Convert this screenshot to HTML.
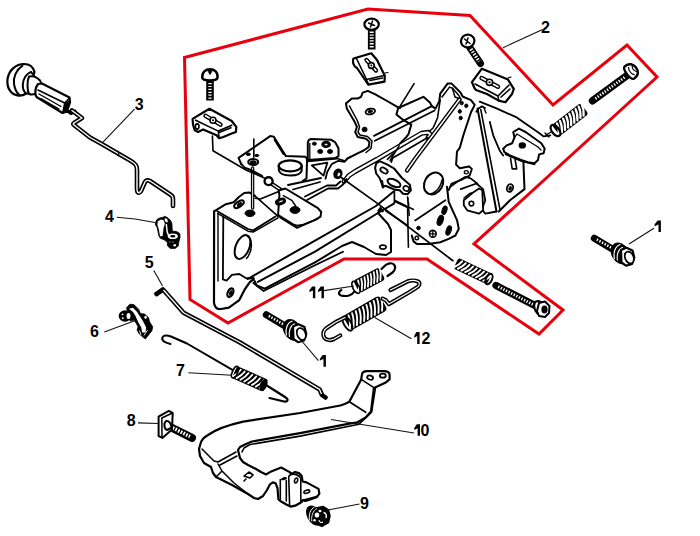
<!DOCTYPE html>
<html><head><meta charset="utf-8"><style>
html,body{margin:0;padding:0;background:#fff;width:700px;height:536px;overflow:hidden}
svg{display:block}
.k{fill:none;stroke:#000;stroke-width:1.8;stroke-linejoin:round;stroke-linecap:round}
.kw{fill:#fff;stroke:#000;stroke-width:1.8;stroke-linejoin:round;stroke-linecap:round}
.t{fill:none;stroke:#000;stroke-width:1.2;stroke-linecap:round}
.ld{fill:none;stroke:#111;stroke-width:1.1}
.lb{font-family:"Liberation Sans",sans-serif;font-weight:bold;font-size:16px;fill:#000}
.red{fill:none;stroke:#e8000c;stroke-width:3;stroke-linejoin:miter}
</style></head><body>
<svg width="700" height="536" viewBox="0 0 700 536">
<!-- red outline -->
<path class="red" d="M184.5,57.5 L368,9 L470,15.5 L553,105 L627,45 L657,77 L474,244 L563,310 L539,334 L427,259 L344,259 L228,323 L190,299.5 Z"/>


<!-- part 3 knob + rod -->
<g id="p3">
<path class="kw" d="M34.5,72 C33,66 29,64 24,64 C16,64 9,70 7.5,79 C6.5,88 11,95 18.5,95.6 C21,95.8 24,95 26.5,93.5 Z" style="stroke-width:2.2px"/>
<path class="k" d="M22.5,65.7 C16,70 13,78 14,84 C15,90 17,93 19,94.5" style="stroke-width:2px"/>
<path class="kw" d="M31,71.8 C26,74 23,79 22.8,85 C22.7,89 24,92 26.5,93.5 C30,93.5 33,92.5 35,91 L36,80 C34.5,76 33,74 31,71.8 Z" style="stroke-width:2px"/>
<path class="kw" d="M29,76.5 C33,75.5 37,77 40,80.5 C42,83 41.5,88 38.5,91.5 C36,94 32,95 29,94 C27,90 27,81 29,76.5 Z" style="stroke-width:2px"/>
<path class="kw" d="M38,84 L42,83.5 L69.5,97.5 L70,102.5 L67,111.5 L62.5,113 L36.5,97 C34.5,94 35,88 38,84 Z" style="stroke-width:2.2px"/>
<path class="k" d="M38,90 L64.7,103 L69.5,98" style="stroke-width:1.6px"/>
<path class="k" d="M64.7,103 L62.8,112.5" style="stroke-width:1.4px"/>
<path class="k" d="M39,94 L61,106.5 M41,98.5 L59,109" style="stroke-width:1.4px"/>
<path d="M64.7,103 L69.6,100 L69.8,102.5 L67,111.4 L62.5,113.1 Z" fill="#000"/>
<path d="M66,110 L71,113.5 L75,111.5 L76.5,114.5" fill="none" stroke="#000" stroke-width="3.2" stroke-linecap="round"/>

<path class="k" d="M66,111 L74.8,112.6" style="stroke-width:3px"/>
<path class="k" d="M72,110.5 L82,118 L74,123 C73,123.5 73,124.2 74,125 L90,137.5 L100,143 L131,161 C136,164 137,166 137,170 L137,189 C137,193 139,194 141,191 L145,182 C146,180 148,180 150,181 L171,195 C172.5,196 173,197 173,199 L173,206" style="stroke-width:4.6px"/>
<path d="M72,110.5 L82,118 L74,123 C73,123.5 73,124.2 74,125 L90,137.5 L100,143 L131,161 C136,164 137,166 137,170 L137,189 C137,193 139,194 141,191 L145,182 C146,180 148,180 150,181 L171,195 C172.5,196 173,197 173,199 L173,206" fill="none" stroke="#fff" stroke-width="1.4" stroke-linejoin="round" stroke-linecap="round"/>
<path class="k" d="M118,151 L119,155" style="stroke-width:1px"/>
</g>


<!-- part 4 clip -->
<g id="p4">
<path d="M155.5,222.5 L157,219.4 L160.2,217.8 L162.9,217.4 L164.5,216.3 L167.2,217.4 L170.4,220.2 L171.9,223.3 L172.3,231.1 L176.6,231.5 L179.8,233.5 L180.1,237.4 L179,241.3 L178.2,246 L175.1,248.4 L170.4,248.4 L167.6,246 L167.2,242.1 L164.1,239.8 L160.2,238.2 L158.6,235.1 L157.8,230.4 L157,227.2 L155.5,224.9 Z" fill="#000" stroke="#000" stroke-width="0.8" stroke-linejoin="round"/>
<path d="M157.8,221.2 L161,219.6 L163.6,220.3 L164.9,223.5 L163.6,228 L162.6,236 L160,236.3 L158.8,229 L157.4,225 Z" fill="#fff"/>
<ellipse cx="166.2" cy="220.4" rx="1.4" ry="2.2" transform="rotate(-30 166.2 220.4)" fill="#fff"/>
<path d="M166.3,224 L167.2,232 L168.6,235.5" fill="none" stroke="#fff" stroke-width="1.5"/>
<ellipse cx="172.8" cy="236.3" rx="5" ry="2.8" fill="#fff"/>
<ellipse cx="172.8" cy="236.3" rx="2.6" ry="1.3" fill="#000"/>
<ellipse cx="174.7" cy="245.3" rx="1.3" ry="1.3" fill="#fff"/>
<path d="M169.5,242 L170.5,242 M172.5,242 L173.5,242" stroke="#fff" stroke-width="0.8"/>
</g>
<!-- part 6 clip -->
<g id="p6">
<path d="M126.5,307.8 L129.8,304.2 L133.9,304.6 L138.8,309.5 L140.4,313.6 L144.5,314 L148.6,317.7 L149.5,321.8 L152.7,326.7 L151.9,330.8 L148.6,334.9 L145.4,339 L142.1,336.6 L138.8,333.3 L137.1,330 L138,326.7 L136.3,323.4 L133.9,320.1 L130,321 Z" fill="#000" stroke="#000" stroke-width="0.8" stroke-linejoin="round"/>
<ellipse cx="125" cy="316" rx="6.3" ry="5.8" fill="#000"/>
<ellipse cx="128.5" cy="316" rx="2" ry="3" fill="#fff"/>
<circle cx="122.5" cy="314.3" r="0.9" fill="#fff"/>
<circle cx="122.8" cy="318.2" r="0.9" fill="#fff"/>
<path d="M128.9,308.7 L133,307.8 L137.1,312 L142.9,321 L146.2,327.5 L145.4,332.5 L142.1,332.5 L141.3,327.5 L138,321.8 L135.5,316 L133,312 Z" fill="#fff"/>
<path d="M139.5,330.5 L141,335 M147.5,330 L144,335.5" stroke="#fff" stroke-width="0.9" fill="none"/>
<ellipse cx="145.6" cy="317.2" rx="1.2" ry="1.5" fill="#fff"/>
</g>
<!-- part 5 rod -->
<g id="p5">
<path class="k" d="M156.5,294 L163,289.5 L183.6,312.7 L240,342.5 L319.6,389.4 L322,395 L325.5,397.5" style="stroke-width:4.6px"/>
<path d="M163.5,290 L183.6,312.7 L240,342.5 L319.6,389.4 L321.5,394" fill="none" stroke="#fff" stroke-width="1.3" stroke-linejoin="round"/>
</g>
<!-- part 7 spring link -->
<g id="p7">
<path class="k" d="M170.5,344 C166,343 161,341 162.5,337.5 C163.5,335 167,335 171,336.5 L187,343.5 L232,369.6" style="stroke-width:2px"/>
<path class="k" d="M266,385 L285,397 C289,399.5 288,402 284,401.5 L269.5,398" style="stroke-width:2.2px"/>
<rect x="233.0" y="372.4" width="34.5" height="13.2" rx="3.0" transform="rotate(24.0 250.2 379.0)" fill="#000"/>
<path d="M232.8,376.4 Q238.1,373.6 240.8,369.7 M236.6,378.1 Q241.9,375.3 244.7,371.4 M240.5,379.8 Q245.8,377.0 248.5,373.1 M244.3,381.5 Q249.6,378.7 252.3,374.8 M248.2,383.2 Q253.4,380.4 256.2,376.5 M252.0,384.9 Q257.3,382.1 260.0,378.2 M255.8,386.6 Q261.1,383.8 263.9,379.9 M259.7,388.3 Q265.0,385.5 267.7,381.6" fill="none" stroke="#fff" stroke-width="1.8" stroke-linecap="round"/>
<ellipse cx="263.5" cy="385" rx="3.5" ry="6.4" transform="rotate(24 263.5 385)" fill="#000"/>
<ellipse cx="235" cy="372.2" rx="2.6" ry="6.2" transform="rotate(24 235 372.2)" fill="none" stroke="#000" stroke-width="1.6"/>
</g>
<!-- part 8 bolt -->
<g id="p8">
<path class="k" d="M166.3,425 L192,437.9" style="stroke-width:8px"/>
<path d="M170,426.5 L190,436.5" fill="none" stroke="#fff" stroke-width="3.6" stroke-dasharray="1.7 1.3"/>
<path class="kw" d="M158.6,416.7 L168.8,410.9 L172.7,412.9 L172,429.6 L162.4,437.9 L158.6,436 Z" style="stroke-width:2px"/>
<path class="k" d="M161.8,418 L171.4,413.5 M161.8,418 L162,437" style="stroke-width:1.5px"/>
<path class="kw" d="M166,421 C169,420.5 172,424 171,428 L167,430 C164,429 163.5,423 166,421 Z" style="stroke-width:2px"/>
</g>
<!-- part 9 nut -->
<g id="p9">
<ellipse cx="314" cy="515.5" rx="7" ry="10.8" transform="rotate(-28 314 515.5)" fill="#000"/>
<path d="M316,508 L323,506.5 L328.5,510 L330,516 L328.5,522.5 L322,526.3 L316,524 Z" fill="#000" stroke="#000" stroke-width="1.5" stroke-linejoin="round"/>
<path d="M309.5,520.5 C308.5,514.5 310.5,509 314.5,507" stroke="#fff" stroke-width="1" fill="none"/>
<path d="M311.8,521.5 C311,516 313,510.5 317,508.5" stroke="#fff" stroke-width="0.9" fill="none"/>
<ellipse cx="317" cy="515" rx="2.3" ry="2.6" fill="#fff"/>
<ellipse cx="320" cy="511" rx="1.5" ry="1.2" fill="#fff"/>
<path d="M323.5,512.5 C326,513 327,515.5 326,518" stroke="#fff" stroke-width="1.4" fill="none"/>
<ellipse cx="314.5" cy="520.3" rx="1.2" ry="1.3" fill="#fff"/>
<path d="M319,520 C319.5,522.5 321,523 323,522" stroke="#fff" stroke-width="1.1" fill="none"/>
</g>
<!-- bolt 1 right -->
<g id="b1r"><g transform="translate(0,0)">
<path d="M594.3,238.3 L613,249.5" stroke="#000" stroke-width="7" stroke-linecap="round" fill="none"/>
<path d="M596.8,239.4 L611,247.6" stroke="#fff" stroke-width="2.4" stroke-dasharray="1.4 1.6" fill="none"/>
<ellipse cx="620" cy="253.3" rx="8.6" ry="11.4" transform="rotate(-28 620 253.3)" fill="#000"/>
<path d="M614.5,259 C613,253 615,246 620.5,244.5" stroke="#fff" stroke-width="1.2" fill="none"/>
<path d="M617.5,260.5 C616.5,255 618,249 623,247.3" stroke="#fff" stroke-width="1.1" fill="none"/>
<path d="M621,250 L626.5,247.8 L632.5,250.5 L634.3,257.5 L632,264 L626,265.7 L621.5,262.5 Z" fill="#fff" stroke="#000" stroke-width="2.2" stroke-linejoin="round"/>
<ellipse cx="629.3" cy="257.5" rx="4.2" ry="6.2" transform="rotate(-22 629.3 257.5)" fill="#fff" stroke="#000" stroke-width="1.7"/>
<path d="M624,254 L626,253" stroke="#000" stroke-width="1.2"/>
</g></g>
<!-- bolt 1 left -->
<g id="b1l"><g transform="translate(-328,76.5)">
<path d="M594.3,238.3 L613,249.5" stroke="#000" stroke-width="7" stroke-linecap="round" fill="none"/>
<path d="M596.8,239.4 L611,247.6" stroke="#fff" stroke-width="2.4" stroke-dasharray="1.4 1.6" fill="none"/>
<ellipse cx="620" cy="253.3" rx="8.6" ry="11.4" transform="rotate(-28 620 253.3)" fill="#000"/>
<path d="M614.5,259 C613,253 615,246 620.5,244.5" stroke="#fff" stroke-width="1.2" fill="none"/>
<path d="M617.5,260.5 C616.5,255 618,249 623,247.3" stroke="#fff" stroke-width="1.1" fill="none"/>
<path d="M621,250 L626.5,247.8 L632.5,250.5 L634.3,257.5 L632,264 L626,265.7 L621.5,262.5 Z" fill="#fff" stroke="#000" stroke-width="2.2" stroke-linejoin="round"/>
<ellipse cx="629.3" cy="257.5" rx="4.2" ry="6.2" transform="rotate(-22 629.3 257.5)" fill="#fff" stroke="#000" stroke-width="1.7"/>
<path d="M624,254 L626,253" stroke="#000" stroke-width="1.2"/>
</g></g>


<!-- part 10 pedal -->
<g id="p10">
<path class="kw" d="M361.9,374.9 C362,372 364,371.2 367.2,371.2 L383.6,371.2 C387,371.2 389.6,372.5 389.6,375 L389.6,379.4 L385.8,382.4 L375,387.6 L373.9,388 L371,411.5 L365.7,417.5 L356.7,422.7 L350.7,423.4 L300,433.1 L252,441.5 L246,444 L240,447 L238,450 L240,458 L243,462 L248,465 L256,469 L261,472 L266,474.5 L270,472.1 L281.2,467.5 L289.6,472.1 L291.5,474 L295.2,472.1 L298.9,473.1 L301.7,475.9 L302.6,481.5 L306.4,482.4 L318.5,488.9 L319.4,493.6 L316.6,497.3 L311,499.2 L305.4,501 L302.6,500.1 L301.7,502 L295.2,505.7 L290.5,506.6 L286.8,504.8 L280.3,501 L278.4,499.2 L277.5,488 L275.6,483.3 L272.8,482.4 L270,484.3 L267,490 L263,496 L258,499 L254,498 L248,494 L232,485 L216,477 L213,473 L211,467 L204,463 L200,456 L199,449 L201,442 C203,438 206,436 208,435 C215,430 228,425 243.2,421.6 L300,413 L340.3,405.5 C343,405 345,404 349.3,401.8 L361.2,379.4 Z" style="stroke-width:2.2px"/>
<ellipse cx="370.1" cy="377.6" rx="3" ry="2" transform="rotate(20 370.1 377.6)" class="k" style="stroke-width:1.8px"/>
<ellipse cx="382.8" cy="375.7" rx="3" ry="2" class="k" style="stroke-width:1.8px"/>
<path class="k" d="M361.2,379.4 L373.9,387.6 M349.3,401.8 L365.7,412.2 M375.4,388.4 L371.6,412.2 L359,424.2 L300,436.1 L250,444.5 L244,448 L242,452" style="stroke-width:1.6px"/>
<path class="k" d="M202,449 L214,461 L218,462 L236,452 M220,465 L237,456 M218,464 L222,471 L234,483 L248,494 M222,471 L216,477" style="stroke-width:1.5px"/>
<path class="k" d="M288.7,476.8 L289.6,504.8 M300.8,478 L300.8,501 M288.7,476.8 C290,473.5 296,472.5 300.8,478 M280.3,479.6 L280.3,499.2 M286.3,480.5 L286.3,501 M303.6,500.1 L316.6,496.4" style="stroke-width:1.6px"/>
<ellipse cx="296.1" cy="480.5" rx="1.5" ry="2.5" transform="rotate(15 296.1 480.5)" class="k" style="stroke-width:1.6px"/>
<ellipse cx="284" cy="478.7" rx="3" ry="1.4" transform="rotate(-15 284 478.7)" fill="#000"/>
<ellipse cx="306.8" cy="491.7" rx="3" ry="1.5" transform="rotate(-20 306.8 491.7)" fill="#fff" stroke="#000" stroke-width="1.6"/>
<path class="k" d="M244,476 L249,472 L253,475 L250,478 Z M246,479 L244,481" style="stroke-width:1.6px"/>
</g>

<!-- springs 11 12 -->
<g id="p11">
<rect x="354.8" y="273.2" width="28.9" height="14.0" rx="3.1" transform="rotate(-27.9 369.2 280.2)" fill="#000"/>
<path d="M358.6,291.7 Q359.7,285.3 358.1,280.4 M361.7,290.0 Q362.8,283.7 361.3,278.7 M364.8,288.4 Q365.9,282.0 364.4,277.1 M367.9,286.7 Q369.0,280.4 367.5,275.4 M371.0,285.1 Q372.1,278.7 370.6,273.8 M374.1,283.4 Q375.2,277.1 373.7,272.1 M377.2,281.8 Q378.3,275.4 376.8,270.5 M380.4,280.1 Q381.4,273.8 379.9,268.8" fill="none" stroke="#fff" stroke-width="1.8" stroke-linecap="round"/>
<ellipse cx="356" cy="287.3" rx="3.2" ry="6.6" transform="rotate(-28 356 287.3)" fill="none" stroke="#000" stroke-width="1.6"/>
<path class="k" d="M354,292 C352,295 347,297 341,295.5 C338,294.5 338.5,291.5 341.3,290" style="stroke-width:2.2px"/>
<path class="k" d="M381.5,269 L385.4,265.3 C388,263 392,262.5 394,264.5 C396,267 395,270 392.6,272.5 L387.5,276" style="stroke-width:2.2px"/>
</g>
<g id="p12">
<rect x="344.2" y="304.6" width="42.1" height="16.8" rx="3.8" transform="rotate(-29.9 365.2 313.0)" fill="#000"/>
<path d="M349.8,329.3 Q350.7,321.4 348.5,315.3 M353.4,327.2 Q354.3,319.3 352.1,313.2 M356.9,325.2 Q357.8,317.3 355.7,311.1 M360.5,323.1 Q361.4,315.2 359.2,309.1 M364.1,321.0 Q365.0,313.1 362.8,307.0 M367.7,319.0 Q368.6,311.1 366.4,305.0 M371.3,316.9 Q372.1,309.0 370.0,302.9 M374.8,314.9 Q375.7,307.0 373.6,300.8 M378.4,312.8 Q379.3,304.9 377.1,298.8 M382.0,310.7 Q382.9,302.9 380.7,296.7" fill="none" stroke="#fff" stroke-width="1.9" stroke-linecap="round"/>
<ellipse cx="347.5" cy="323.5" rx="3.6" ry="8" transform="rotate(-30 347.5 323.5)" fill="none" stroke="#000" stroke-width="1.8"/>
<path d="M345,317.5 L335.4,322.2 L326,328.5 C323,331 322.5,335 324.5,338 C326.5,340.5 331,340.5 334,339 L340.2,335.5" fill="none" stroke="#000" stroke-width="4.2" stroke-linejoin="round" stroke-linecap="round"/>
<path d="M345,317.5 L335.4,322.2 L326,328.5 C323,331 322.5,335 324.5,338 C326.5,340.5 331,340.5 334,339 L340.2,335.5" fill="none" stroke="#fff" stroke-width="1.2" stroke-linejoin="round" stroke-linecap="round"/>
<path d="M382.6,298.6 L385.8,300.2 L388.9,304.1 L409.3,292.3 L416,288 C419.5,286 420.5,283 418,281.5 C415,280 410,280.5 407.8,281.3 L390.5,290" fill="none" stroke="#000" stroke-width="4.2" stroke-linejoin="round" stroke-linecap="round"/>
<path d="M382.6,298.6 L385.8,300.2 L388.9,304.1 L409.3,292.3 L416,288 C419.5,286 420.5,283 418,281.5 C415,280 410,280.5 407.8,281.3 L390.5,290" fill="none" stroke="#fff" stroke-width="1.2" stroke-linejoin="round" stroke-linecap="round"/>
</g>

<!-- S:screws -->
<path d="M210,80 L210,100.5" stroke="#000" stroke-width="7.6" stroke-linecap="butt" fill="none"/>
<path d="M210,83 L210,99.5" stroke="#fff" stroke-width="3.2" stroke-dasharray="1.2 1.7" fill="none"/>
<path d="M202.2,77.5 C202,72 205.5,69.3 210,69.3 C214.5,69.3 218,72 217.6,77.5 C217.3,80 215,80.5 210,80.5 C205,80.5 202.5,80 202.2,77.5 Z" fill="#fff" stroke="#000" stroke-width="2.4" stroke-linejoin="round"/>
<path d="M207.5,70 L210,74.5 L212.5,70 Z" fill="#000" stroke="#000" stroke-width="1" stroke-linejoin="round"/>
<path d="M371.7,29 L371.7,49.5" stroke="#000" stroke-width="7.6" stroke-linecap="butt" fill="none"/>
<path d="M371.7,31.5 L371.7,48.5" stroke="#fff" stroke-width="4" stroke-dasharray="1.4 1.5" fill="none"/>
<ellipse cx="371.6" cy="24.3" rx="7.2" ry="5.6" fill="#fff" stroke="#000" stroke-width="2.3"/>
<path d="M368.5,23 L374.5,25.5 M372.5,21 L370.5,27" fill="none" stroke="#000" stroke-width="1.4" stroke-linecap="round"/>
<path d="M469.5,47.0 L480.5,63.5" stroke="#000" stroke-width="7" stroke-linecap="round" fill="none"/>
<path d="M470.9,49.0 L479.1,61.5" stroke="#fff" stroke-width="3.6" stroke-dasharray="1.4 1.5" fill="none"/>
<ellipse cx="467.7" cy="41" rx="6.8" ry="6.3" transform="rotate(-20 467.7 41)" fill="#fff" stroke="#000" stroke-width="2.2"/>
<path d="M464.5,39 L470,43.5 M468,38 L466,44" fill="none" stroke="#000" stroke-width="1.5" stroke-linejoin="round" stroke-linecap="round"/>
<path d="M627,75.5 L592.5,100.8" stroke="#000" stroke-width="7.4" stroke-linecap="round" fill="none"/>
<path d="M624.5,77.3 L594.8,99.1" stroke="#fff" stroke-width="2.8" stroke-dasharray="1.3 1.6" fill="none"/>
<g transform="translate(631.5,71) rotate(52)"><path d="M-7.8,2.5 C-8,-3 -4.5,-5.7 0,-5.7 C4.5,-5.7 8,-3 7.6,2.5 C7.3,5 5,5.5 0,5.5 C-5,5.5 -7.5,5 -7.8,2.5 Z" fill="#fff" stroke="#000" stroke-width="2.4" stroke-linejoin="round"/>
<path d="M-4,-4 C-1,-1.5 1,-1.5 4,-4 M-5,0 C-2,2 2,2 5,0" fill="none" stroke="#000" stroke-width="1.2"/></g>
<path d="M192.6,118.9 L209.4,108.8 L231.7,121 L236.3,126.9 L235.9,131.9 L231.7,133.6 L223.3,137 L219.1,138.2 L216.6,135.3 L203.1,129.4 L198,131.9 L194.7,130.3 L193,124.4 Z" fill="#fff" stroke="#000" stroke-width="2.2" stroke-linejoin="round" stroke-linecap="round"/>
<path d="M195.6,120.2 L218.3,131.1 L231.7,125.2 M219.1,132.4 L230.9,127.7 M218.3,131.1 L219.1,138" fill="none" stroke="#000" stroke-width="1.6" stroke-linejoin="round" stroke-linecap="round"/>
<path d="M205.5,115.8 L220.5,124.6" stroke="#000" stroke-width="4.4" stroke-linecap="round" fill="none"/><path d="M205.5,115.8 L220.5,124.6" stroke="#fff" stroke-width="1.6" stroke-linecap="round" fill="none"/><circle cx="213" cy="120.3" r="3.0" fill="#fff" stroke="#000" stroke-width="1.6"/><circle cx="213" cy="120.3" r="1.0" fill="#000"/>
<ellipse cx="197.2" cy="126.5" rx="1.8" ry="2.6" fill="#fff" stroke="#000" stroke-width="1.6"/>
<path d="M353.5,58.5 L371.3,53.3 L377,60 L384.8,75.7 L384.5,81.6 L368.4,84.6 L366.5,82 L357,68 L355,66.7 C353,64 352.5,61 353.5,58.5 Z" fill="#fff" stroke="#000" stroke-width="2.2" stroke-linejoin="round" stroke-linecap="round"/>
<path d="M356.5,58.5 L366.5,79.5 L384,75.5 M366.5,79.5 L368.4,84.6 M370,80.5 L382.5,78" fill="none" stroke="#000" stroke-width="1.6" stroke-linejoin="round" stroke-linecap="round"/>
<path d="M366.5,60 L376,70.5" stroke="#000" stroke-width="4.4" stroke-linecap="round" fill="none"/><path d="M366.5,60 L376,70.5" stroke="#fff" stroke-width="1.6" stroke-linecap="round" fill="none"/><circle cx="371.3" cy="65.5" r="2.9" fill="#fff" stroke="#000" stroke-width="1.6"/><circle cx="371.3" cy="65.5" r="1.0" fill="#000"/>
<path d="M385,73 L388,72.5" fill="none" stroke="#000" stroke-width="1.2" stroke-linejoin="round" stroke-linecap="round"/>
<path d="M471.9,82.1 L481.9,68.7 L508,79.6 L513.8,88.8 L512,94 L505.4,102.3 L498.7,100.6 L487,94 L476,90 L474.4,88 Z" fill="#fff" stroke="#000" stroke-width="2.2" stroke-linejoin="round" stroke-linecap="round"/>
<path d="M475,84 L498,96 L509,85 M498,96 L498.7,100.6 M501,97 L510,89" fill="none" stroke="#000" stroke-width="1.6" stroke-linejoin="round" stroke-linecap="round"/>
<path d="M481.5,78 L498,86.8" stroke="#000" stroke-width="4.4" stroke-linecap="round" fill="none"/><path d="M481.5,78 L498,86.8" stroke="#fff" stroke-width="1.6" stroke-linecap="round" fill="none"/><circle cx="489.5" cy="82.3" r="3.1" fill="#fff" stroke="#000" stroke-width="1.6"/><circle cx="489.5" cy="82.3" r="1.1" fill="#000"/>
<path d="M508,78 L511,77" fill="none" stroke="#000" stroke-width="1.2" stroke-linejoin="round" stroke-linecap="round"/>
<!-- E:screws -->
<!-- S:bracket -->
<path d="M214.1,211.3 L214,303 C215,308 218,309.5 221,309 L228.9,307.6 L239.3,300.1 L244.6,289.7 L249.8,282.2 L253.7,279.1" fill="none" stroke="#000" stroke-width="2.2" stroke-linejoin="round" stroke-linecap="round"/>
<path d="M218,213.3 L218,281" fill="none" stroke="#000" stroke-width="1.4" stroke-linejoin="round" stroke-linecap="round"/>
<path d="M223.3,216.5 L222.9,279.3 L226.6,280.7 L231.9,274.8 L239.3,274 L245.3,277.8 L249.8,278.5 L253.7,278" fill="none" stroke="#000" stroke-width="1.8" stroke-linejoin="round" stroke-linecap="round"/>
<ellipse cx="230.4" cy="292.7" rx="2.6" ry="4.6" transform="rotate(25 230.4 292.7)" fill="#fff" stroke="#000" stroke-width="2.2"/>
<ellipse cx="230.8" cy="293" rx="1.2" ry="2.4" transform="rotate(25 230.8 293)" fill="#000" stroke="#000" stroke-width="1"/>
<path d="M214.1,211.3 L225.9,204.2 L233.7,202.2 L238.9,197 L244.2,193 L249.4,192.4 L254.6,195.7" fill="none" stroke="#000" stroke-width="2.0" stroke-linejoin="round" stroke-linecap="round"/>
<path d="M217.4,211.3 L248,229 L253.3,230.3 L275.5,216.6" fill="none" stroke="#000" stroke-width="1.8" stroke-linejoin="round" stroke-linecap="round"/>
<path d="M218,213.6 L248,231.2 L253.3,232 L278,217.9" fill="none" stroke="#000" stroke-width="1.5" stroke-linejoin="round" stroke-linecap="round"/>
<ellipse cx="239" cy="204.2" rx="5.5" ry="2.6" transform="rotate(-35 239 204.2)" fill="#fff" stroke="#000" stroke-width="2.0"/>
<ellipse cx="239.5" cy="204.5" rx="2.6" ry="1.2" transform="rotate(-35 239.5 204.5)" fill="#000" stroke="#000" stroke-width="1"/>
<ellipse cx="250" cy="213.3" rx="5" ry="3.2" fill="#000" stroke="#000" stroke-width="1"/>
<path d="M252.6,168 L252.6,208" fill="none" stroke="#000" stroke-width="3.4" stroke-linejoin="round" stroke-linecap="round"/>
<path d="M252.6,168 L252.6,208" fill="none" stroke="#fff" stroke-width="0.9" stroke-linejoin="round" stroke-linecap="round"/>
<ellipse cx="242.5" cy="247" rx="6.8" ry="12.6" transform="rotate(22 242.5 247)" fill="#fff" stroke="#000" stroke-width="2.0"/>
<path d="M247,236 C253,238.5 253,251 246.5,258.5" fill="none" stroke="#000" stroke-width="1.4" stroke-linejoin="round" stroke-linecap="round"/>
<path d="M247.6,279 L315,240.7 L376,206 L393.9,191.3" fill="none" stroke="#000" stroke-width="2.0" stroke-linejoin="round" stroke-linecap="round"/>
<path d="M254.4,280.7 L256.7,285.3 L264.7,288.7 L315,262.4 L342,246 L352,242 L364,247 L376,254 L386,255 L391,252 L391,230 L388,224 L378,213" fill="none" stroke="#000" stroke-width="2.0" stroke-linejoin="round" stroke-linecap="round"/>
<path d="M257.9,281.9 L315,251.6 L378,213 L393.9,203.6" fill="none" stroke="#000" stroke-width="2.0" stroke-linejoin="round" stroke-linecap="round"/>

<path d="M253.3,283 L263.6,291 L315,265.3 L343,251.7" fill="none" stroke="#000" stroke-width="1.8" stroke-linejoin="round" stroke-linecap="round"/>
<ellipse cx="382.9" cy="247.1" rx="3.2" ry="2" fill="#fff" stroke="#000" stroke-width="1.6"/>
<path d="M378,211 L380.5,207.5 L383,211.5 Z" fill="#000" stroke="#000" stroke-width="1.5" stroke-linejoin="round" stroke-linecap="round"/>

<!-- E:bracket -->
<!-- S:plateD -->
<path d="M212.4,136 L213,150.8 L246,170 L264.4,178" fill="none" stroke="#000" stroke-width="1.6" stroke-linejoin="round" stroke-linecap="round"/>
<path d="M272,184 L281,190" fill="none" stroke="#000" stroke-width="4.2" stroke-linejoin="round" stroke-linecap="round"/>
<path d="M272,184 L281,190" fill="none" stroke="#fff" stroke-width="1.3" stroke-linejoin="round" stroke-linecap="round"/>
<ellipse cx="268.6" cy="181.2" rx="4" ry="3.9" fill="#fff" stroke="#000" stroke-width="2.4"/>
<path d="M255.2,198.3 L260.4,199 L278.1,191.8" fill="none" stroke="#000" stroke-width="1.6" stroke-linejoin="round" stroke-linecap="round"/>
<path d="M254.6,195.7 L276.1,214.6 L278.1,216.6" fill="none" stroke="#000" stroke-width="1.6" stroke-linejoin="round" stroke-linecap="round"/>
<path d="M278.7,190.5 L285.3,188.5 L317.9,208.1 L321.2,212 L320.5,216.6 L315.3,219.9 L302.2,225.1 L297,225.7 L293.1,224.4 L279.4,215.9 L278.1,214.6 L279.4,195 Z" fill="#fff" stroke="#000" stroke-width="2.0" stroke-linejoin="round" stroke-linecap="round"/>
<path d="M280,217.5 L297,228 L318,218.5" fill="none" stroke="#000" stroke-width="1.5" stroke-linejoin="round" stroke-linecap="round"/>
<ellipse cx="280.5" cy="201.6" rx="5" ry="2.8" transform="rotate(-20 280.5 201.6)" fill="#000" stroke="#000" stroke-width="1.5"/>
<ellipse cx="281" cy="201.4" rx="2.6" ry="1.1" transform="rotate(-20 281 201.4)" fill="#fff" stroke="#000" stroke-width="0.8"/>
<ellipse cx="295" cy="210" rx="5" ry="3.4" fill="#000" stroke="#000" stroke-width="1"/>
<path d="M283.3,195.7 L291.8,200.3 L295.7,206" fill="none" stroke="#000" stroke-width="1.5" stroke-linejoin="round" stroke-linecap="round"/>

<!-- E:plateD -->
<!-- S:plateBC -->
<path d="M241.1,163.9 L238.6,157.9 L270.2,136.1 L273.8,136.7 L285.9,156.1 L305.3,156.7 L307.1,159.1 L306.5,178.5 L302.9,180.9" fill="none" stroke="#000" stroke-width="2.0" stroke-linejoin="round" stroke-linecap="round"/>
<path d="M241.1,163.9 L244.7,167.6 L250.8,170 L262,176" fill="none" stroke="#000" stroke-width="2.0" stroke-linejoin="round" stroke-linecap="round"/>
<path d="M274.4,139.7 L283.5,154.2" fill="none" stroke="#000" stroke-width="1.6" stroke-linejoin="round" stroke-linecap="round"/>
<ellipse cx="253.2" cy="162.1" rx="5" ry="3" fill="#fff" stroke="#000" stroke-width="2.0"/>
<ellipse cx="253.2" cy="162.4" rx="3.2" ry="1.6" fill="#000" stroke="#000" stroke-width="1"/>
<ellipse cx="248.3" cy="154.2" rx="2" ry="1.3" fill="#000" stroke="#000" stroke-width="1"/>
<ellipse cx="256.8" cy="155.5" rx="2" ry="1.1" fill="#000" stroke="#000" stroke-width="1"/>
<path d="M253.8,139.1 L253.8,157.3" fill="none" stroke="#000" stroke-width="1.6" stroke-linejoin="round" stroke-linecap="round"/>
<path d="M278.7,165.8 L278.9,170.5 C280,174 285,175.5 290.2,175.5 C296,175.5 301,174 301.7,170.5 L301.7,165.8" fill="#fff" stroke="#000" stroke-width="2.0" stroke-linejoin="round" stroke-linecap="round"/>
<ellipse cx="290.2" cy="165.8" rx="11.5" ry="5.5" fill="#fff" stroke="#000" stroke-width="2.2"/>
<path d="M307.8,160 L307.8,143.1 C308,140.5 309.5,139.1 311.8,139.1 L331.3,139.8 L335.3,142.4 L338.5,148.3 L338.5,156.1 L335.3,158.1 Z" fill="#fff" stroke="#000" stroke-width="2.0" stroke-linejoin="round" stroke-linecap="round"/>
<path d="M309.8,143.5 L309.8,160" fill="none" stroke="#000" stroke-width="1.3" stroke-linejoin="round" stroke-linecap="round"/>
<ellipse cx="314.4" cy="143.7" rx="2" ry="1.5" fill="#000" stroke="#000" stroke-width="1"/>
<ellipse cx="326.1" cy="144.4" rx="4" ry="2.8" fill="#000" stroke="#000" stroke-width="1.6"/>
<ellipse cx="326.1" cy="144.4" rx="1.8" ry="1" fill="#fff" stroke="#000" stroke-width="0.5"/>
<ellipse cx="320.2" cy="151.5" rx="2.5" ry="2" fill="#000" stroke="#000" stroke-width="1"/>
<ellipse cx="330" cy="151.5" rx="2.5" ry="2" fill="#000" stroke="#000" stroke-width="1"/>
<path d="M311.8,165.3 L327.4,162.6 L323.5,175.7 Z" fill="none" stroke="#000" stroke-width="1.8" stroke-linejoin="round" stroke-linecap="round"/>
<path d="M307.8,161.3 L337.3,158.5 L345,161" fill="none" stroke="#000" stroke-width="1.8" stroke-linejoin="round" stroke-linecap="round"/>

<ellipse cx="337.9" cy="173.8" rx="3.8" ry="4.6" transform="rotate(20 337.9 173.8)" fill="#000" stroke="#000" stroke-width="1.5"/>
<ellipse cx="338.8" cy="174.5" rx="1.5" ry="2.2" transform="rotate(20 338.8 174.5)" fill="#fff" stroke="#000" stroke-width="0.5"/>
<path d="M344.6,161.9 L338.4,160.8 L331.7,164.1 L327.2,172 L325.5,178.7" fill="none" stroke="#000" stroke-width="1.8" stroke-linejoin="round" stroke-linecap="round"/>
<path d="M344,181.5 L349,175.5 L355,171.5 L377,159.3 L399.2,146.3 L421.4,133.3 L428.5,132.3 L430.5,135 L428,137.5" fill="none" stroke="#000" stroke-width="5" stroke-linejoin="round" stroke-linecap="round"/>
<path d="M344,181.5 L349,175.5 L355,171.5 L377,159.3 L399.2,146.3 L421.4,133.3 L428.5,132.3 L430.5,135 L428,137.5" fill="none" stroke="#fff" stroke-width="2.2" stroke-linejoin="round" stroke-linecap="round"/>
<path d="M288,185 L321,178 M293,189.5 L320,182" fill="none" stroke="#000" stroke-width="1.8" stroke-linejoin="round" stroke-linecap="round"/>
<path d="M307,200 L328,188.5 L338,188.5 L343,184.5 L346.5,179 M305,196.5 L327,185.5 L336,185.5 L340.5,181.5" fill="none" stroke="#000" stroke-width="1.8" stroke-linejoin="round" stroke-linecap="round"/>
<path d="M340.5,177 L376.4,202.6 L452.9,260.7" fill="none" stroke="#000" stroke-width="1.7" stroke-linejoin="round" stroke-linecap="round"/>
<!-- E:plateBC -->
<!-- S:plateE -->
<path d="M346,103.5 L351.8,98.5 L357.7,98.5 L361,96.8 L362.7,92.6 L367.8,90.9 L375.3,94.3 L387.1,101 L397.3,106.9 L400,108" fill="none" stroke="#000" stroke-width="2.0" stroke-linejoin="round" stroke-linecap="round"/>
<path d="M346,103.5 L346.8,108.5 L355.2,122.8 L356.9,127 L355.2,132 L357.7,137.1 L366.1,138.8 L369.5,142.1 L368.6,147.2 L363.6,150.5 L358.6,152.9 L347.4,158.5 L345.2,161" fill="none" stroke="#000" stroke-width="2.0" stroke-linejoin="round" stroke-linecap="round"/>
<path d="M349.5,106 L357.5,121 L359.5,127 L358,132 L360,135 L367.5,136.5 L372,141 L371,148.5 L366,152.5" fill="none" stroke="#000" stroke-width="1.5" stroke-linejoin="round" stroke-linecap="round"/>
<ellipse cx="370.3" cy="111.5" rx="4.8" ry="2.8" transform="rotate(-10 370.3 111.5)" fill="#fff" stroke="#000" stroke-width="1.8"/>
<ellipse cx="370.3" cy="111.5" rx="2.4" ry="1.2" transform="rotate(-10 370.3 111.5)" fill="#000" stroke="#000" stroke-width="0.8"/>
<ellipse cx="364.6" cy="129.5" rx="2.5" ry="2.3" fill="#000" stroke="#000" stroke-width="1"/>
<path d="M398.2,108 L423.4,96.8 L429.9,102.4 L431.8,106.1" fill="none" stroke="#000" stroke-width="2.0" stroke-linejoin="round" stroke-linecap="round"/>
<path d="M398.2,108 L396.4,114.5 L402,119.1 L411.3,124.7 L408.5,134.1 L405.7,137.8 L400.1,143.4" fill="none" stroke="#000" stroke-width="2.0" stroke-linejoin="round" stroke-linecap="round"/>
<path d="M400.1,106.1 L414.1,83.7" fill="none" stroke="#000" stroke-width="1.6" stroke-linejoin="round" stroke-linecap="round"/>
<path d="M374,135.9 L431.8,106.1" fill="none" stroke="#000" stroke-width="1.8" stroke-linejoin="round" stroke-linecap="round"/>
<path d="M374.9,140.8 L434.6,110.5" fill="none" stroke="#000" stroke-width="1.8" stroke-linejoin="round" stroke-linecap="round"/>
<path d="M431.8,106.1 L435.5,108.6 L439.3,101.1 L440.2,93.7 L447.7,83.4 L451.4,83.4 L460.7,92.7 L462.6,96.5 L471,100.2 L474.7,104.9 L471,112.3 L463.5,134.7 L459.8,147.8 L457,151.5 L456.1,164.6 L459.8,168.3 L469.1,166.5" fill="none" stroke="#000" stroke-width="2.0" stroke-linejoin="round" stroke-linecap="round"/>
<path d="M442,97 L449.5,87.1 L452.3,88.1 L458.9,95.5 L460.7,99.3" fill="none" stroke="#000" stroke-width="1.5" stroke-linejoin="round" stroke-linecap="round"/>
<path d="M452.3,88.1 L455,97 L460.7,99.3" fill="none" stroke="#000" stroke-width="1.5" stroke-linejoin="round" stroke-linecap="round"/>
<path d="M440.2,100 L437.5,118 L433.1,128 L429.2,131.5" fill="none" stroke="#000" stroke-width="1.6" stroke-linejoin="round" stroke-linecap="round"/>

<path d="M459.5,99.5 L436,131 L415,159 L407,170.5" fill="none" stroke="#000" stroke-width="4.4" stroke-linejoin="round" stroke-linecap="round"/>
<path d="M459.5,99.5 L436,131 L415,159 L407,170.5" fill="none" stroke="#fff" stroke-width="1.5" stroke-linejoin="round" stroke-linecap="round"/>

<ellipse cx="461.7" cy="103" rx="1.6" ry="1.8" fill="#000" stroke="#000" stroke-width="1"/>
<ellipse cx="466.3" cy="105.8" rx="1.6" ry="1.8" fill="#000" stroke="#000" stroke-width="1"/>
<ellipse cx="459.8" cy="111.4" rx="1.6" ry="1.8" fill="#000" stroke="#000" stroke-width="1"/>
<ellipse cx="460.7" cy="118" rx="1.6" ry="1.8" fill="#000" stroke="#000" stroke-width="1"/>


<!-- E:plateE -->
<!-- S:lever -->
<path d="M427.9,137.8 L424,139.8 L399.2,154.2 L392.6,158.1 L391.3,162" fill="none" stroke="#000" stroke-width="1.8" stroke-linejoin="round" stroke-linecap="round"/>


<path d="M390,160.7 L399.2,145.7 M387.4,159.4 L394,152.9" fill="none" stroke="#000" stroke-width="1.5" stroke-linejoin="round" stroke-linecap="round"/>
<path d="M376.2,163.4 L379.6,161.2 L387.4,164.6 L394.1,168.5 L402,178 L409.8,184.7 L410.9,190.3 L407.6,194.2 L403.1,193.7 L399.7,190.3 L395.2,189.8 L388.5,187 L385.2,185.8 L382.9,187 L381.8,183.6 L379.6,178 L376.2,173.5 L375.1,167.9 Z" fill="#fff" stroke="#000" stroke-width="2.0" stroke-linejoin="round" stroke-linecap="round"/>
<ellipse cx="394" cy="183" rx="7" ry="3.3" transform="rotate(25 394 183)" fill="#fff" stroke="#000" stroke-width="2.0"/>
<ellipse cx="384" cy="170.5" rx="4" ry="2.4" transform="rotate(30 384 170.5)" fill="#fff" stroke="#000" stroke-width="1.8"/>
<ellipse cx="406.2" cy="188.5" rx="3" ry="2.4" transform="rotate(30 406.2 188.5)" fill="#fff" stroke="#000" stroke-width="1.6"/>
<path d="M382,181 L383,187.5" fill="none" stroke="#000" stroke-width="2.2" stroke-linejoin="round" stroke-linecap="round"/>
<path d="M407.6,197 L408,200 M408.3,202 L408.7,205" fill="none" stroke="#000" stroke-width="1.6" stroke-linejoin="round" stroke-linecap="round"/>
<path d="M394.4,191.3 L394.4,202.6 M394.9,201.6 L408.3,207.7 M385.7,210.8 L407.2,225.2" fill="none" stroke="#000" stroke-width="1.7" stroke-linejoin="round" stroke-linecap="round"/>
<!-- E:lever -->
<!-- S:right -->
<path d="M479.7,101.7 L496.5,108.4 L516.7,117.4 L539.1,133.1 L543.6,136.4 L550.3,135.3" fill="none" stroke="#000" stroke-width="1.8" stroke-linejoin="round" stroke-linecap="round"/>
<path d="M476.4,111.8 L478.6,108.4 L482,106.2 L485,108" fill="none" stroke="#000" stroke-width="1.8" stroke-linejoin="round" stroke-linecap="round"/>
<path d="M477.5,108.4 L496.5,211.5" fill="none" stroke="#000" stroke-width="2.0" stroke-linejoin="round" stroke-linecap="round"/>
<path d="M480.8,109.6 L499.9,209.2" fill="none" stroke="#000" stroke-width="1.6" stroke-linejoin="round" stroke-linecap="round"/>
<path d="M484.2,108.4 L486,113" fill="none" stroke="#000" stroke-width="1.4" stroke-linejoin="round" stroke-linecap="round"/>
<path d="M489.8,121.9 L493.2,135.3 L499.9,151 L503.2,155.5" fill="none" stroke="#000" stroke-width="1.8" stroke-linejoin="round" stroke-linecap="round"/>
<path d="M513.3,132 L518.9,128.6 L525.6,132 L541.3,143.2 L544.7,148.8 L543.6,153.2 L539.1,154.4 L538,160 L534.6,163.3 L527.9,162.2 L521.2,160 L510,155.5 L504.4,152.1 L503.2,148.8 L506.6,145.4 L512.2,143.2 L514.4,137.6 Z" fill="#fff" stroke="#000" stroke-width="2.0" stroke-linejoin="round" stroke-linecap="round"/>
<path d="M505.5,154.4 L521,161 L534.6,164.4" fill="none" stroke="#000" stroke-width="1.5" stroke-linejoin="round" stroke-linecap="round"/>
<path d="M514.4,137.6 L517,134 L538,147 L541,150" fill="none" stroke="#000" stroke-width="1.3" stroke-linejoin="round" stroke-linecap="round"/>
<ellipse cx="522.3" cy="145.4" rx="3" ry="2.4" fill="#000" stroke="#000" stroke-width="1.4"/>
<path d="M510.5,158 L512.2,168.9 L516.7,168.9 L515,158.8" fill="none" stroke="#000" stroke-width="1.6" stroke-linejoin="round" stroke-linecap="round"/>
<path d="M523.4,162.2 L524.5,189.1 L510,200.3 L498.8,211.5" fill="none" stroke="#000" stroke-width="2.0" stroke-linejoin="round" stroke-linecap="round"/>
<ellipse cx="510" cy="188" rx="3" ry="4" transform="rotate(20 510 188)" fill="#fff" stroke="#000" stroke-width="1.8"/>
<ellipse cx="510.3" cy="188.3" rx="1.4" ry="2.2" transform="rotate(20 510.3 188.3)" fill="#000" stroke="#000" stroke-width="0.5"/>
<path d="M469.1,166.5 L471.9,168.9 L469.6,175.6 L460.7,180.1 L451.7,183.5 L448.7,190" fill="none" stroke="#000" stroke-width="1.8" stroke-linejoin="round" stroke-linecap="round"/>
<ellipse cx="466.3" cy="172.3" rx="2" ry="1.6" fill="#fff" stroke="#000" stroke-width="1.3"/>
<path d="M460.7,189.1 L476.4,183.5 L483.1,189.1 L485.3,200.3 L482,209.2 L485.3,213.7 L496.5,211.5" fill="none" stroke="#000" stroke-width="1.8" stroke-linejoin="round" stroke-linecap="round"/>
<path d="M464,198 L469.6,193.6 L478.6,191.3" fill="none" stroke="#000" stroke-width="1.5" stroke-linejoin="round" stroke-linecap="round"/>
<ellipse cx="471.4" cy="203.6" rx="2.6" ry="3.6" transform="rotate(20 471.4 203.6)" fill="#fff" stroke="#000" stroke-width="1.8"/>

<ellipse cx="433.6" cy="183.5" rx="9" ry="11.5" transform="rotate(30 433.6 183.5)" fill="#fff" stroke="#000" stroke-width="2.0"/>
<path d="M427,193 C432,196 440,190 442,180" fill="none" stroke="#000" stroke-width="1.4" stroke-linejoin="round" stroke-linecap="round"/>
<path d="M415.1,220.4 L445.4,200.3" fill="none" stroke="#000" stroke-width="1.8" stroke-linejoin="round" stroke-linecap="round"/>
<path d="M447,186.8 L448.7,201.9 L457.1,220.4 L458.8,228.8 L455.4,235.5 L448.7,238.9 L440.3,242.2 L428.6,243.9 L416.8,243.9 L413.5,241.4 L411.8,235.5" fill="none" stroke="#000" stroke-width="2.0" stroke-linejoin="round" stroke-linecap="round"/>
<path d="M450.4,186.8 L457.1,181.8 L465.5,176.8 L470.6,178.4 L477.3,183.5" fill="none" stroke="#000" stroke-width="1.8" stroke-linejoin="round" stroke-linecap="round"/>
<ellipse cx="444.5" cy="210.3" rx="2.3" ry="4.3" transform="rotate(20 444.5 210.3)" fill="#000" stroke="#000" stroke-width="1"/>
<ellipse cx="440.3" cy="220.4" rx="2.8" ry="5.2" transform="rotate(20 440.3 220.4)" fill="#000" stroke="#000" stroke-width="1"/>
<ellipse cx="448.7" cy="230.5" rx="2.4" ry="4.8" transform="rotate(20 448.7 230.5)" fill="#000" stroke="#000" stroke-width="1"/>
<ellipse cx="418.5" cy="228" rx="1.8" ry="1.8" fill="#000" stroke="#000" stroke-width="1"/>
<ellipse cx="432.8" cy="233.8" rx="3.4" ry="3.4" fill="#fff" stroke="#000" stroke-width="1.6"/>
<path d="M430,233.8 L435.6,233.8 M432.8,231 L432.8,236.6" fill="none" stroke="#000" stroke-width="1.2" stroke-linejoin="round" stroke-linecap="round"/>
<ellipse cx="416.8" cy="238" rx="1.8" ry="1.8" fill="#fff" stroke="#000" stroke-width="1.4"/>

<path d="M407.6,197.7 L409.3,215.4" fill="none" stroke="#000" stroke-width="1.5" stroke-linejoin="round" stroke-linecap="round"/>
<path d="M407.6,208.7 L408.4,247.3" fill="none" stroke="#000" stroke-width="1.6" stroke-linejoin="round" stroke-linecap="round"/>
<path d="M395,200.3 L413.5,209.5" fill="none" stroke="#000" stroke-width="1.5" stroke-linejoin="round" stroke-linecap="round"/>
<path d="M463.8,200.3 L473.9,191.9 L479,188.5 L482.3,190.2 L483.1,210.3 L479,213.7 L467.2,210.3 L463.8,205.3 Z" fill="#fff" stroke="#000" stroke-width="1.8" stroke-linejoin="round" stroke-linecap="round"/>
<ellipse cx="471.4" cy="203.6" rx="2.3" ry="2.3" fill="#fff" stroke="#000" stroke-width="1.6"/>
<!-- E:right -->
<!-- S:springsEF -->
<rect x="552.2" y="112.6" width="36.0" height="13.8" rx="3.1" transform="rotate(-37.7 570.2 119.5)" fill="#000"/>
<path d="M558.8,134.8 Q559.2,128.1 556.9,123.3 M561.9,132.4 Q562.3,125.7 560.0,121.0 M565.0,130.0 Q565.4,123.3 563.1,118.6 M568.1,127.6 Q568.5,120.9 566.2,116.2 M571.2,125.2 Q571.6,118.5 569.3,113.8 M574.3,122.8 Q574.7,116.1 572.4,111.4 M577.4,120.4 Q577.8,113.7 575.5,109.0 M580.5,118.0 Q580.9,111.3 578.6,106.6 M583.6,115.7 Q584.0,108.9 581.7,104.2" fill="none" stroke="#fff" stroke-width="2.2" stroke-linecap="round"/>
<ellipse cx="555.5" cy="130.5" rx="3.6" ry="6.6" transform="rotate(-38 555.5 130.5)" fill="none" stroke="#000" stroke-width="2.2"/>
<path d="M551,132 L546,135 M549,137 L545,133" fill="none" stroke="#000" stroke-width="1.4" stroke-linejoin="round" stroke-linecap="round"/>
<rect x="454.2" y="265.2" width="37.0" height="11.8" rx="2.7" transform="rotate(25.3 472.8 271.1)" fill="#000"/>
<path d="M454.3,267.0 Q459.5,264.8 462.1,261.4 M457.9,268.7 Q463.1,266.6 465.8,263.2 M461.5,270.5 Q466.7,268.3 469.4,264.9 M465.2,272.2 Q470.4,270.0 473.0,266.6 M468.8,273.9 Q474.0,271.7 476.7,268.3 M472.5,275.6 Q477.7,273.4 480.3,270.0 M476.1,277.3 Q481.3,275.1 484.0,271.7 M479.7,279.0 Q485.0,276.9 487.6,273.5 M483.4,280.8 Q488.6,278.6 491.2,275.2" fill="none" stroke="#fff" stroke-width="2.0" stroke-linecap="round"/>
<ellipse cx="489" cy="279" rx="3" ry="5.6" transform="rotate(25 489 279)" fill="none" stroke="#000" stroke-width="2"/>
<path d="M496.0,285.5 L535.0,305.5" stroke="#000" stroke-width="7.2" stroke-linecap="round" fill="none"/>
<path d="M498.2,286.6 L532.8,304.4" stroke="#fff" stroke-width="2.9" stroke-dasharray="1.3 1.6" fill="none"/>
<ellipse cx="540" cy="308.5" rx="5" ry="8" transform="rotate(-30 540 308.5)" fill="#fff" stroke="#000" stroke-width="2.2"/>
<path d="M539,303 L545,301.5 L549.5,306 L549,313 L545,317 L539,316 L537,311 Z" fill="#fff" stroke="#000" stroke-width="2.0" stroke-linejoin="round" stroke-linecap="round"/>
<ellipse cx="544.5" cy="309.5" rx="2.5" ry="3.3" fill="#000" stroke="#000" stroke-width="1.2"/>
<!-- E:springsEF -->
<!-- labels -->
<g class="lb">
<text x="540.9" y="33.0">2</text>
<text x="134.8" y="109.7">3</text>
<text x="104.9" y="221.6">4</text>
<text x="144.8" y="268.2">5</text>
<text x="89.9" y="337.0">6</text>
<text x="175.9" y="375.9">7</text>
<text x="126.7" y="426.0">8</text>
<text x="360.0" y="508.7">9</text>
<text x="420.5" y="435.7">0</text>
<text x="421.4" y="343.9">2</text>
</g>
<path d="M660.9,220.6 L660.9,232.0 L658.5,232.0 L658.5,224.5 L654.6,226.2 L654.6,224.3 L657.7,220.6 Z" fill="#000"/>
<path d="M420.0,424.3 L420.0,435.7 L417.6,435.7 L417.6,428.2 L414.3,429.9 L414.3,428.0 L416.8,424.3 Z" fill="#000"/>
<path d="M315.3,286.5 L315.3,298.3 L312.9,298.3 L312.9,290.4 L309.4,292.1 L309.4,290.2 L312.1,286.5 Z" fill="#000"/>
<path d="M323.9,286.5 L323.9,298.3 L321.5,298.3 L321.5,290.4 L318.0,292.1 L318.0,290.2 L320.7,286.5 Z" fill="#000"/>
<path d="M419.6,332.1 L419.6,343.9 L417.2,343.9 L417.2,336.0 L414.3,337.7 L414.3,335.8 L416.4,332.1 Z" fill="#000"/>
<path d="M325.9,355.0 L325.9,366.7 L323.5,366.7 L323.5,358.9 L319.9,360.6 L319.9,358.7 L322.7,355.0 Z" fill="#000"/>
<!-- leaders -->
<g class="ld">
<path d="M629,244 L653.9,228.3"/>
<path d="M503,47.7 L542.6,29.5"/>
<path d="M102.5,142.6 L134.5,109.2"/>
<path d="M116.9,217.2 L135,219 L155,222.5"/>
<path d="M153.8,270.4 L162.6,286"/>
<path d="M104.3,331.9 L135.4,320.5"/>
<path d="M188.4,372.7 L232,375.3"/>
<path d="M138,422.9 L158,423.5"/>
<path d="M326.6,510.2 L359.5,504"/>
<path d="M331,419.5 L414,433"/>
<path d="M324,290.6 L354,286"/>
<path d="M374.7,317.5 L411.4,338.7"/>
<path d="M301.3,340.5 L318.4,360.6"/>
</g>
</svg>
</body></html>
